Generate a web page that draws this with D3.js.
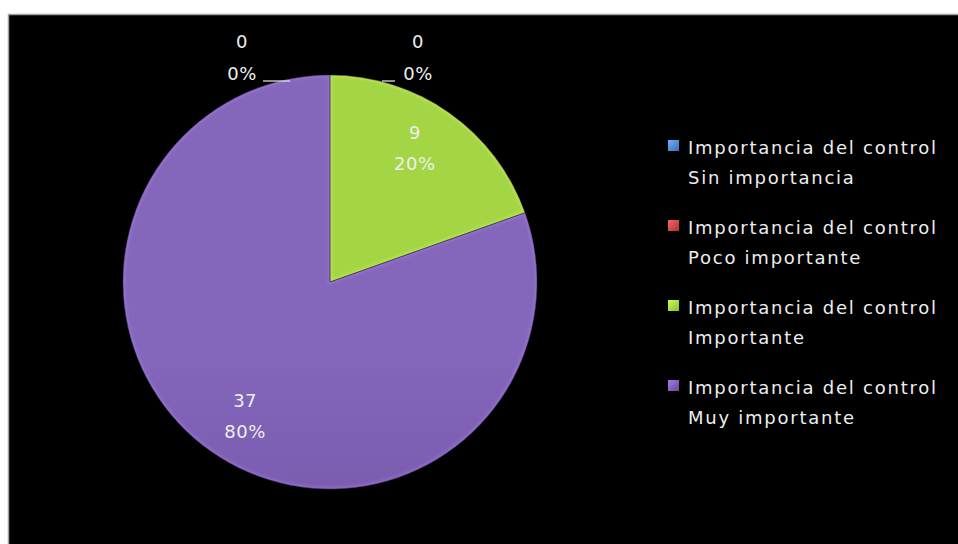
<!DOCTYPE html>
<html>
<head>
<meta charset="utf-8">
<script src="https://cdn.jsdelivr.net/npm/d3@7"></script>
<style>
  html, body { margin: 0; padding: 0; background: #ffffff; }
  svg { display: block; }
  text { font-family: "DejaVu Sans", "Open Sans", sans-serif; }
</style>
</head>
<body>
<svg id="chart" width="958" height="544"></svg>
<script>
// Survey answers: importance of the control
const seriesName = "Importancia del control";
const categories = ["Sin importancia", "Poco importante", "Importante", "Muy importante"];
const counts = [0, 0, 9, 37];
const colorsTop = ["#5a8fd0", "#d05050", "#a4d545", "#8466ba"];
const colorsBottom = ["#3c6fb0", "#aa3434", "#8cba32", "#65489a"];

const W = 958, H = 544;
const svg = d3.select("#chart");
const defs = svg.append("defs");

// chart panel
svg.append("rect").attr("x", 8).attr("y", 14).attr("width", W - 8).attr("height", H - 14)
  .attr("fill", "#000");
svg.append("path").attr("d", `M8.5,${H}V14.5H${W}`).attr("fill", "none")
  .attr("stroke", "#a0a0a0").attr("stroke-width", 1.5);

const cx = 330, cy = 282, r = 207;
const total = d3.sum(counts);
const data = categories.map((c, i) => ({ cat: c, value: counts[i], i }));

const pie = d3.pie().value(d => d.value).sort(null);
const arcs = pie(data);
const arc = d3.arc().innerRadius(0).outerRadius(r);
const labelArc = d3.arc().innerRadius(r * 0.79).outerRadius(r * 0.79);

// vertical shading per slice colour
data.forEach(d => {
  const g = defs.append("linearGradient").attr("id", "grad" + d.i)
    .attr("gradientUnits", "userSpaceOnUse")
    .attr("x1", 0).attr("y1", cy - r).attr("x2", 0).attr("y2", cy + r);
  g.append("stop").attr("offset", 0).attr("stop-color", colorsTop[d.i]);
  g.append("stop").attr("offset", 1).attr("stop-color", colorsBottom[d.i]);
  const m = defs.append("linearGradient").attr("id", "mk" + d.i)
    .attr("x1", 0).attr("y1", 0).attr("x2", 1).attr("y2", 1);
  m.append("stop").attr("offset", 0).attr("stop-color", d3.color(colorsTop[d.i]).brighter(0.6));
  m.append("stop").attr("offset", 1).attr("stop-color", colorsBottom[d.i]);
});
const soft = defs.append("filter").attr("id", "soft")
  .attr("x", "-10%").attr("y", "-10%").attr("width", "120%").attr("height", "120%");
soft.append("feGaussianBlur").attr("stdDeviation", 0.7);
const glow = defs.append("filter").attr("id", "glow");
glow.append("feGaussianBlur").attr("stdDeviation", 1.6);

const pieG = svg.append("g").attr("transform", `translate(${cx},${cy})`);
const sliceArcs = arcs.filter(a => a.value > 0);

sliceArcs.forEach(a => {
  defs.append("clipPath").attr("id", "clip" + a.data.i)
    .append("path").attr("d", arc(a));
});

pieG.selectAll("path.slice").data(sliceArcs).join("path")
  .attr("class", "slice")
  .attr("d", arc)
  .attr("fill", d => `url(#grad${d.data.i})`)
  .attr("filter", "url(#soft)");

// bevel highlight along slice edges
pieG.selectAll("path.bevel").data(sliceArcs).join("path")
  .attr("class", "bevel")
  .attr("d", arc)
  .attr("fill", "none")
  .attr("stroke", d => d3.color(colorsTop[d.data.i]).brighter(0.8))
  .attr("stroke-opacity", 0.4)
  .attr("stroke-width", 4)
  .attr("clip-path", d => `url(#clip${d.data.i})`)
  .attr("filter", "url(#glow)");

// dark seam between slices
pieG.selectAll("path.seam").data(sliceArcs).join("path")
  .attr("class", "seam")
  .attr("d", arc)
  .attr("fill", "none")
  .attr("stroke", "#3a3050")
  .attr("stroke-opacity", 0.5)
  .attr("stroke-width", 1);

const labelColor = "#eeeeee";
const fontSize = 18;
const pct = v => Math.round(v / total * 100) + "%";

// labels for visible slices, two lines centred on the label point (pulled in a little horizontally)
const lab = svg.append("g").attr("fill", labelColor).attr("font-size", fontSize)
  .attr("text-anchor", "middle").attr("letter-spacing", 0.5);
sliceArcs.forEach(a => {
  const [lx0, ly] = labelArc.centroid(a);
  const lx = lx0 * 0.9;
  const t = lab.append("text").attr("x", cx + lx).attr("y", cy + ly - 9);
  t.append("tspan").attr("x", cx + lx).attr("dy", 0).text(a.value);
  t.append("tspan").attr("x", cx + lx).attr("dy", 31).text(pct(a.value));
});

// zero-size slices sit at the top of the pie; their labels go either side with leader lines
const zeroArcs = arcs.filter(a => a.value === 0);
const topY = cy - r;
zeroArcs.forEach((a, k) => {
  const side = k === 0 ? -1 : 1;
  const lx = cx + side * 88;
  const t = lab.append("text").attr("x", lx).attr("y", topY - 27);
  t.append("tspan").attr("x", lx).attr("dy", 0).text(a.value);
  t.append("tspan").attr("x", lx).attr("dy", 32).text(pct(a.value));
  const x0 = side < 0 ? lx + 21 : lx - 23;
  const x1 = side < 0 ? cx - 40 : cx + 52;
  svg.append("line").attr("x1", x0).attr("x2", x1)
    .attr("y1", topY + 6).attr("y2", topY + 6)
    .attr("stroke", "#dddddd").attr("stroke-width", 1.3);
});

// legend
const legend = svg.append("g").attr("transform", "translate(668,0)");
const legX = 20, legY0 = 154, groupGap = 80, lineGap = 30;
const items = legend.selectAll("g.item").data(data).join("g").attr("class", "item")
  .attr("transform", (d, i) => `translate(0,${legY0 + i * groupGap})`);
items.append("rect").attr("x", 0).attr("y", -14).attr("width", 11).attr("height", 11)
  .attr("fill", d => `url(#mk${d.i})`);
const lt = items.append("text").attr("fill", labelColor).attr("font-size", fontSize);
lt.append("tspan").attr("x", legX).attr("dy", 0).text(seriesName);
lt.append("tspan").attr("x", legX).attr("dy", lineGap).text(d => d.cat);

// set the letter spacing so the series name spans the legend column
const probe = legend.append("text").attr("font-size", fontSize).text(seriesName);
const natural = probe.node().getComputedTextLength();
probe.remove();
const spacing = (248 - natural) / (seriesName.length - 1);
lt.attr("letter-spacing", spacing);
</script>
</body>
</html>
